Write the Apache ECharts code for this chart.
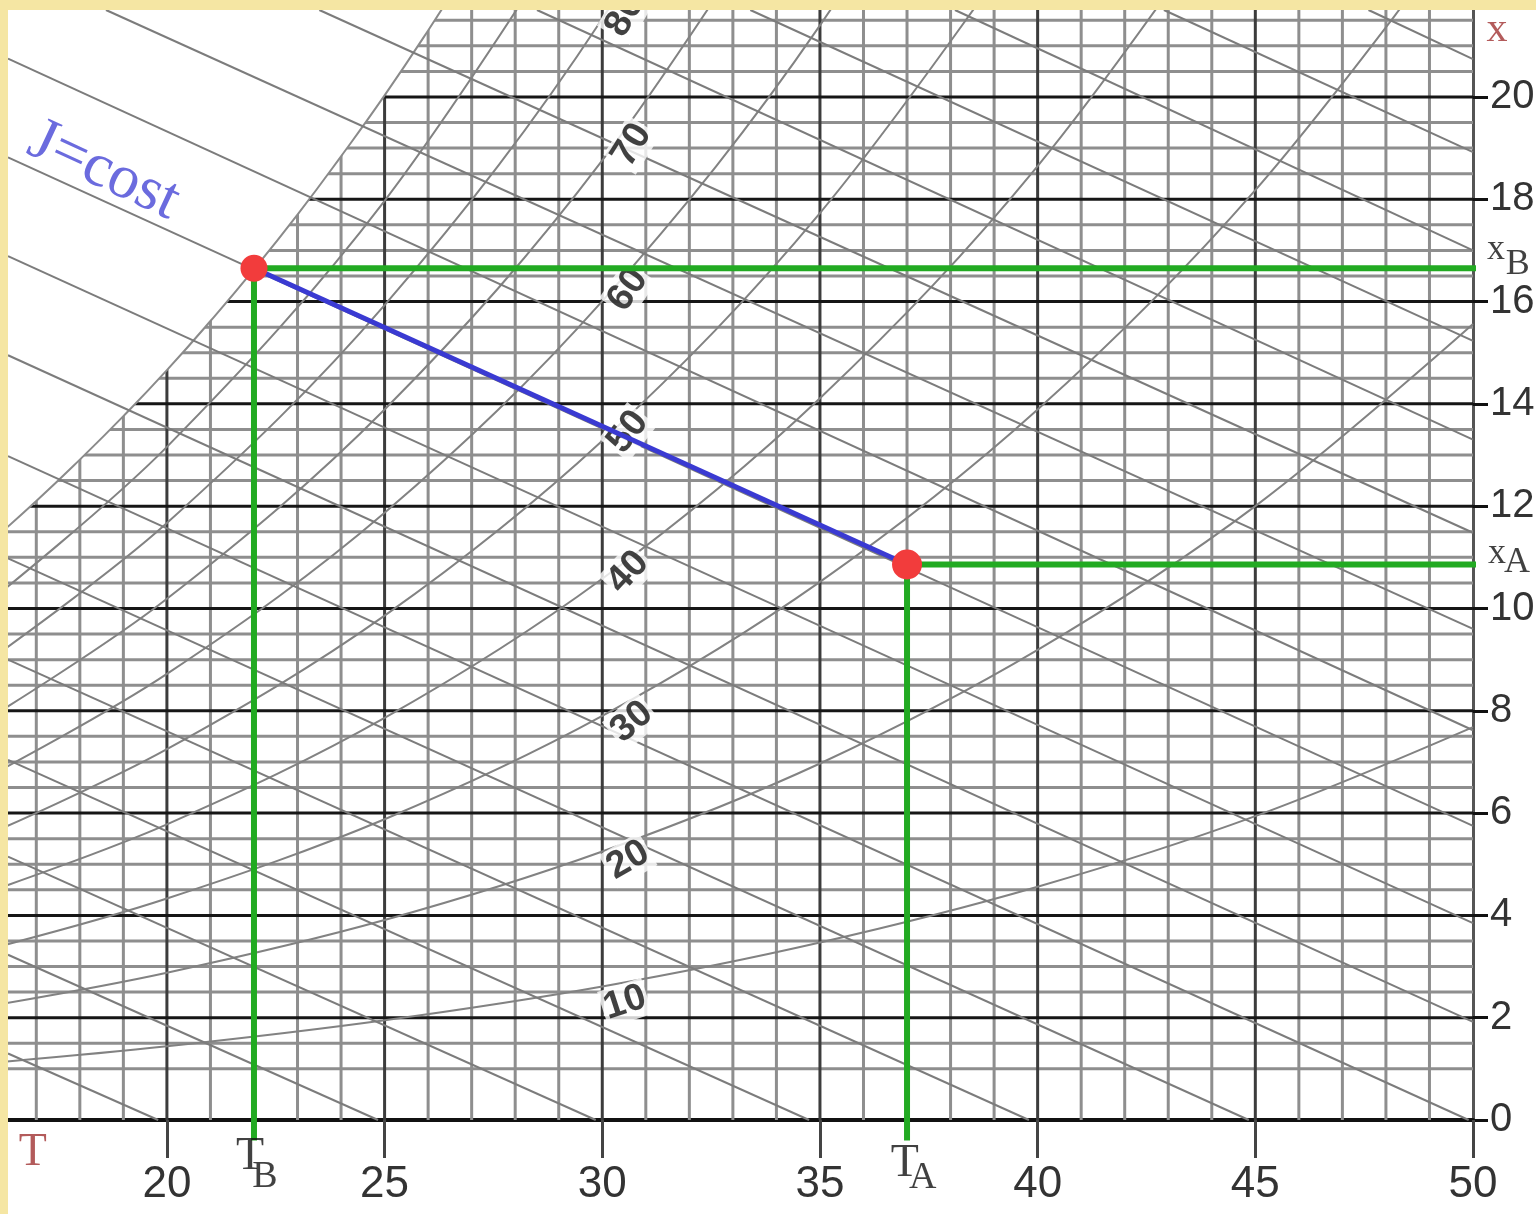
<!DOCTYPE html>
<html><head><meta charset="utf-8">
<script src="https://cdn.jsdelivr.net/npm/echarts@6/dist/echarts.min.js"></script>
<style>html,body{margin:0;padding:0;background:#fff}#c{width:1536px;height:1214px}</style>
</head><body><div id="c"></div>
<script>
// ---------- axis ranges ----------
const T_MIN = 16.35, T_MAX = 50, X_MIN = 0, X_MAX = 21.7;

// ---------- tick labels ----------
const tempLabels = [20, 25, 30, 35, 40, 45, 50];
const humLabels = [0, 2, 4, 6, 8, 10, 12, 14, 16, 18, 20];

// ---------- grid lines ----------
const tempMinorGrid = [17,18,19,21,22,23,24,26,27,28,29,31,32,33,34,36,37,38,39,41,42,43,44,46,47,48,49];
const tempMajorGrid = [20, 25, 30, 35, 40, 45];
const humMinorGrid = [1,1.5,2.5,3,3.5,4.5,5,5.5,6.5,7,7.5,8.5,9,9.5,10.5,11,11.5,12.5,13,13.5,14.5,15,15.5,16.5,17,17.5,18.5,19,19.5,20.5,21,21.5];
const humMajorGrid = [2, 4, 6, 8, 10, 12, 14, 16, 18, 20];

// ---------- saturation curve (RH 100%) ----------
const satT = [16, 17, 18, 19, 20, 21, 22, 23, 24, 25, 26, 27];
const satX = [11.34, 12.10, 12.91, 13.76, 14.66, 15.62, 16.63, 17.70, 18.84, 20.03, 21.30, 22.64];

// ---------- relative humidity curves ----------
const rhT = [16, 20, 25, 30, 35, 40, 45, 50];
const rh10 = [1.12, 1.44, 1.95, 2.61, 3.47, 4.56, 5.94, 7.68];
const rh20 = [2.24, 2.88, 3.91, 5.25, 6.97, 9.19, 12.00, 15.56];
const rh30 = [3.36, 4.33, 5.88, 7.90, 10.52, 13.89, 18.18, 23.63];
const rh40 = [4.49, 5.78, 7.86, 10.58, 14.11, 18.65, 24.48];
const rh50 = [5.62, 7.25, 9.86, 13.28, 17.73, 23.49];
const rh60 = [6.76, 8.72, 11.87, 16.01, 21.40, 28.40];
const rh70 = [7.90, 10.19, 13.89, 18.76, 25.11];
const rh80 = [9.04, 11.67, 15.93, 21.53, 28.87];
const rh90 = [10.19, 13.16, 17.97, 24.32];

const rhLabelText = ['10', '20', '30', '40', '50', '60', '70', '80'];
const rhLabelT = [30.52, 30.59, 30.68, 30.59, 30.59, 30.59, 30.68, 30.52];
const rhLabelX = [2.29, 5.08, 7.78, 10.71, 13.45, 16.23, 19.06, 21.60];
const rhLabelAngle = [18, 30, 40, 47, 52, 55, 58, 60];

// ---------- enthalpy lines (J = cost) ----------
const jValues = [20, 25, 30, 35, 40, 45, 50, 55, 60, 65, 70, 75, 80, 85, 90, 95, 100, 105];
const jStartT = [16.35,16.35,16.35,16.35,16.35,16.35,16.35,16.35,16.35,16.35,16.35, 18.6, 23.5, 28.5, 33.4, 38.1, 42.9, 47.6];
const jStartX = [1.30, 3.23, 5.15, 7.04, 9.00, 10.98, 12.98, 14.95, 16.89, 18.82, 20.75, 21.7, 21.7, 21.7, 21.7, 21.7, 21.7, 21.7];
const jEndT = [19.8, 24.85, 29.85, 34.75, 39.8, 44.85, 49.9, 50, 50, 50, 50, 50, 50, 50, 50, 50, 50, 50];
const jEndX = [0, 0, 0, 0, 0, 0, 0, 1.92, 3.85, 5.75, 7.62, 9.60, 11.48, 13.30, 15.23, 17.00, 18.92, 20.74];

// ---------- states A and B ----------
const pointB = [22, 16.65];
const pointA = [37, 10.86];
const guideEndT = 50.2;   // green guides run slightly past the right axis
const guideEndX = -0.4;   // and slightly below the bottom axis

const numFont = '"Liberation Sans Narrow", "Liberation Sans", Arial, sans-serif';
const serifFont = '"Liberation Serif", "DejaVu Serif", "Times New Roman", serif';

function gridSeries(values, dir, color, width) {
  return {
    type: 'custom', coordinateSystem: 'cartesian2d', silent: true, z: 1,
    data: values.map(v => dir === 'v' ? [v, X_MIN] : [T_MIN, v]),
    encode: {x: 0, y: 1},
    renderItem: function (params, api) {
      const a = dir === 'v' ? api.coord([api.value(0), X_MIN]) : api.coord([T_MIN, api.value(1)]);
      const b = dir === 'v' ? api.coord([api.value(0), X_MAX]) : api.coord([T_MAX, api.value(1)]);
      return {type: 'line', shape: {x1: a[0], y1: a[1], x2: b[0], y2: b[1]},
              style: {stroke: color, lineWidth: width}};
    }
  };
}

const series = [];
series.push(gridSeries(tempMinorGrid, 'v', '#8e8e8e', 3));
series.push(gridSeries(humMinorGrid, 'h', '#8e8e8e', 3));
series.push(gridSeries(tempMajorGrid, 'v', '#3c3c3c', 3));
series.push(gridSeries(humMajorGrid, 'h', '#161616', 3));

// fog region (above saturation) blanked out, saturation curve drawn
series.push({
  type: 'line', silent: true, z: 2, smooth: true, symbol: 'none',
  data: satT.map((t, i) => [t, satX[i]]),
  lineStyle: {color: '#8a8a8a', width: 2},
  areaStyle: {color: '#ffffff', opacity: 1, origin: 'end'}
});

[rh10, rh20, rh30, rh40, rh50, rh60, rh70, rh80, rh90].forEach(arr => {
  series.push({
    type: 'line', silent: true, z: 3, smooth: 0.35, symbol: 'none',
    data: arr.map((x, i) => [rhT[i], x]),
    lineStyle: {color: '#828282', width: 2}
  });
});

jValues.forEach((h, i) => {
  series.push({
    type: 'line', silent: true, z: 3, symbol: 'none', name: 'J' + h,
    data: [[jStartT[i], jStartX[i]], [jEndT[i], jEndX[i]]],
    lineStyle: {color: '#7c7c7c', width: 2}
  });
});

// RH labels
series.push({
  type: 'scatter', silent: true, z: 5, symbolSize: 0, clip: false,
  data: rhLabelText.map((s, i) => ({
    value: [rhLabelT[i], rhLabelX[i]],
    label: {show: true, position: 'inside', formatter: s, rotate: rhLabelAngle[i],
            fontSize: 38, fontFamily: numFont, color: '#111', fontWeight: 'bold',
            backgroundColor: '#ffffff', padding: [0, 2]}
  }))
});

// green guide lines
function green(data) {
  return {type: 'line', silent: true, z: 6, symbol: 'none', clip: false, data: data,
          lineStyle: {color: '#22aa22', width: 6}};
}
series.push(green([pointB, [guideEndT, pointB[1]]]));
series.push(green([pointB, [pointB[0], guideEndX]]));
series.push(green([pointA, [guideEndT, pointA[1]]]));
series.push(green([pointA, [pointA[0], guideEndX]]));

// blue process line
series.push({type: 'line', silent: true, z: 7, symbol: 'none', data: [pointB, pointA],
             lineStyle: {color: '#3a3ad2', width: 5}});

// red state points
series.push({type: 'scatter', silent: true, z: 8, clip: false,
  itemStyle: {color: '#f23c3c', opacity: 1},
  data: [{value: pointB, symbolSize: 27}, {value: pointA, symbolSize: 30}]});

// text annotations
function txt(pos, text, size, color, font, rotate) {
  return {value: pos, label: {show: true, position: 'inside', formatter: text, fontSize: size,
          color: color, fontFamily: font, rotate: rotate || 0}};
}
series.push({
  type: 'scatter', silent: true, z: 9, symbolSize: 0, clip: false,
  data: [
    txt([18.55, 18.55], 'J=cost', 62, '#4646d6', serifFont, -25),
    txt([16.92, -0.65], 'T', 46, '#a03232', serifFont),
    txt([50.55, 21.31], 'x', 42, '#a03232', serifFont),
    txt([50.53, 17.01], 'x', 36, '#111', serifFont),
    txt([51.03, 16.72], 'B', 36, '#111', serifFont),
    txt([50.55, 11.08], 'x', 36, '#111', serifFont),
    txt([51.01, 10.89], 'A', 36, '#111', serifFont),
    txt([21.91, -0.72], 'T', 46, '#111', serifFont),
    txt([22.25, -1.11], 'B', 38, '#111', serifFont),
    txt([36.95, -0.86], 'T', 46, '#111', serifFont),
    txt([37.36, -1.13], 'A', 38, '#111', serifFont)
  ]
});

const option = {
  animation: false,
  backgroundColor: '#ffffff',
  grid: {left: 8, right: 63, top: 10, bottom: 94, containLabel: false, outerBoundsMode: 'none'},
  xAxis: {
    type: 'value', min: T_MIN, max: T_MAX, position: 'bottom',
    axisLine: {show: true, onZero: false, lineStyle: {color: '#111', width: 4}},
    axisTick: {show: true, customValues: tempLabels, length: 38, lineStyle: {color: '#444', width: 3}},
    axisLabel: {show: true, customValues: tempLabels, margin: 43, fontSize: 44, lineHeight: 44,
                color: '#333', fontFamily: numFont},
    splitLine: {show: false}
  },
  yAxis: {
    type: 'value', min: X_MIN, max: X_MAX, position: 'right',
    axisLine: {show: true, onZero: false, lineStyle: {color: '#555', width: 3}},
    axisTick: {show: true, customValues: humLabels, length: 15, lineStyle: {color: '#111', width: 3}},
    axisLabel: {show: true, customValues: humLabels, margin: 17, fontSize: 40, lineHeight: 40,
                color: '#333', fontFamily: numFont, padding: [0, 0, 16, 0]},
    splitLine: {show: false}
  },
  graphic: [
    {type: 'rect', z: 100, silent: true, shape: {x: 0, y: 0, width: 1536, height: 10}, style: {fill: '#f5e6a3'}},
    {type: 'rect', z: 100, silent: true, shape: {x: 0, y: 0, width: 8, height: 1214}, style: {fill: '#f5e6a3'}}
  ],
  series: series
};

const chart = echarts.init(document.getElementById('c'), null, {renderer: 'canvas'});
chart.setOption(option);
</script>
</body></html>
